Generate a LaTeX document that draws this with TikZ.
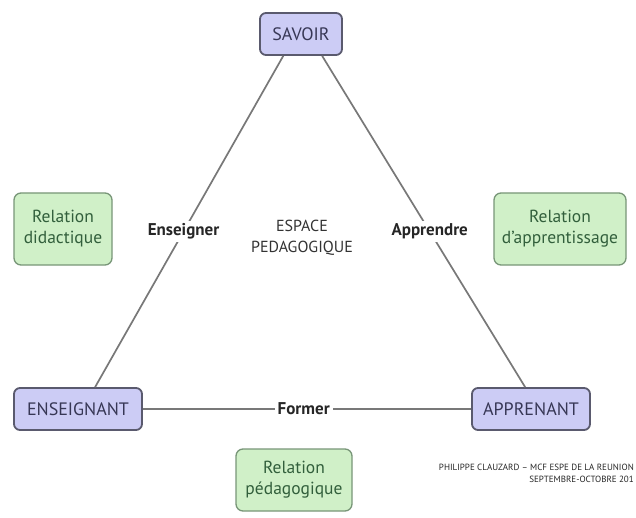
\documentclass[tikz,border=0pt]{standalone}
\usepackage{fontspec}
\setmainfont{PT Sans}
\definecolor{bfill}{RGB}{204,204,245}
\definecolor{bdraw}{RGB}{90,90,110}
\definecolor{btext}{RGB}{55,55,85}
\definecolor{gfill}{RGB}{208,240,200}
\definecolor{gdraw}{RGB}{120,150,120}
\definecolor{gtext}{RGB}{50,95,60}
\definecolor{lcol}{RGB}{120,120,120}
\begin{document}
\begin{tikzpicture}[x=1pt,y=-1pt,
  bluebox/.style={draw=bdraw, line width=1.8pt, fill=bfill, rounded corners=6pt,
     text=btext, font=\fontsize{18}{20}\selectfont, minimum height=42pt, inner xsep=5pt},
  greenbox/.style={draw=gdraw, line width=1.3pt, fill=gfill, rounded corners=7pt,
     text=gtext, font=\fontsize{17.5}{21}\selectfont, align=center, minimum height=72pt, inner xsep=6pt},
  link/.style={draw=lcol, line width=1.7pt},
  lbl/.style={fill=white, font=\bfseries\fontsize{17}{20}\selectfont, text=black!85, inner sep=3pt},
  ctext/.style={font=\fontsize{16}{21}\selectfont, text=black!80, align=center},
  foot/.style={font=\fontsize{9}{12}\selectfont, text=black!85, align=right, anchor=north east, inner sep=0pt}]
\useasboundingbox[fill=white] (0,0) rectangle (636,518);

\node[bluebox, minimum width=82pt] (sav) at (301,34) {SAVOIR};
\node[bluebox, minimum width=128pt] (ens) at (78,409) {ENSEIGNANT};
\node[bluebox, minimum width=118pt] (app) at (531,409) {APPRENANT};

\node[greenbox, minimum width=98pt] (rd) at (63,229) {Relation\\didactique};
\node[greenbox, minimum width=132pt] (ra) at (560,229) {Relation\\d'apprentissage};
\node[greenbox, minimum width=116pt, minimum height=62pt] (rp) at (294,480) {Relation\\pédagogique};

\node[ctext] (esp) at (302,238) {ESPACE\\PEDAGOGIQUE};

\draw[link] (sav.-129) -- node[lbl, pos=0.53] (lens) {Enseigner} (ens.52);
\draw[link] (sav.-46) -- node[lbl, pos=0.53] (lapp) {Apprendre} (app.105);
\draw[link] (ens) -- node[lbl, pos=0.49] (lfor) {Former} (app);

\node[foot] (f) at (634,464) {PHILIPPE CLAUZARD -- MCF ESPE DE LA REUNION\\SEPTEMBRE-OCTOBRE 201};
\end{tikzpicture}
\end{document}
